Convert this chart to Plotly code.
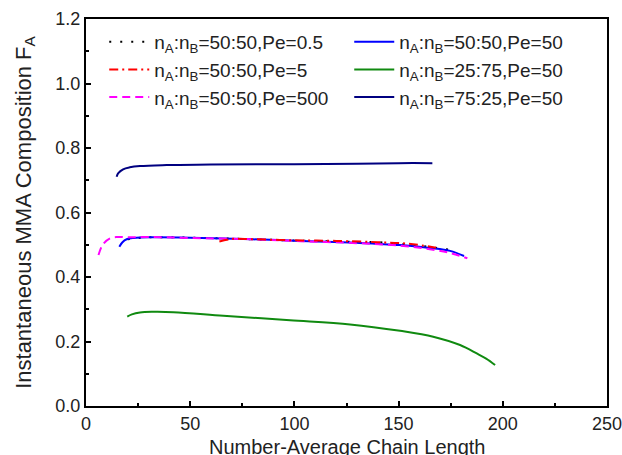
import plotly.graph_objects as go

# Data (x: number-average chain length, y: F_A)
x_pe05 = [20, 30, 50, 80, 100, 130, 143, 160, 175]
y_pe05 = [0.517, 0.523, 0.522, 0.517, 0.513, 0.509, 0.507, 0.497, 0.484]

x_pe5 = [64, 70, 80, 100, 120, 140, 155, 168]
y_pe5 = [0.510, 0.518, 0.517, 0.514, 0.512, 0.508, 0.503, 0.491]

x_pe500 = [6, 8, 11.5, 15, 20, 30, 50, 80, 103, 130, 151, 165, 175, 183]
y_pe500 = [0.468, 0.50, 0.520, 0.524, 0.523, 0.524, 0.521, 0.517, 0.511, 0.505, 0.497, 0.486, 0.474, 0.458]

x_pe50 = [16, 17.5, 19.5, 23, 30.7, 50, 80, 102.7, 130, 150.7, 165, 174.7, 181.4]
y_pe50 = [0.494, 0.508, 0.517, 0.521, 0.523, 0.522, 0.517, 0.512, 0.506, 0.499, 0.490, 0.481, 0.465]

x_2575 = [19.8, 22, 25.9, 32, 41.9, 65.9, 97.9, 126.7, 150.7, 166.6, 179.5, 187.5, 192, 196.3]
y_2575 = [0.277, 0.284, 0.290, 0.292, 0.291, 0.280, 0.266, 0.253, 0.233, 0.215, 0.189, 0.163, 0.147, 0.127]

x_7525 = [14.7, 15.5, 17.8, 21, 25.9, 38.7, 60, 100, 130, 150, 166.2]
y_7525 = [0.711, 0.722, 0.734, 0.740, 0.744, 0.747, 0.749, 0.750, 0.751, 0.753, 0.753]

names = [
    "n<sub>A</sub>:n<sub>B</sub>=50:50,Pe=0.5",
    "n<sub>A</sub>:n<sub>B</sub>=50:50,Pe=5",
    "n<sub>A</sub>:n<sub>B</sub>=50:50,Pe=500",
    "n<sub>A</sub>:n<sub>B</sub>=50:50,Pe=50",
    "n<sub>A</sub>:n<sub>B</sub>=25:75,Pe=50",
    "n<sub>A</sub>:n<sub>B</sub>=75:25,Pe=50",
]

x_title = "Number-Average Chain Length"
y_title = "Instantaneous MMA Composition F<sub>A</sub>"

x_ticks = [0, 50, 100, 150, 200, 250]
y_ticks = [0.0, 0.2, 0.4, 0.6, 0.8, 1.0, 1.2]

fig = go.Figure()

def add(x, y, name, color, dash, rank):
    fig.add_trace(go.Scatter(
        x=x, y=y, mode="lines", name=name, legendrank=rank,
        line=dict(color=color, width=2, dash=dash, shape="spline"),
    ))

# draw order: black under, then blue, magenta, red, green, navy
add(x_pe05, y_pe05, names[0], "black", "2px,9px", 1)
add(x_pe50, y_pe50, names[3], "#0000ff", "solid", 2)
add(x_pe500, y_pe500, names[2], "#ff00ff", "8px,5px", 5)
add(x_pe5, y_pe5, names[1], "#ff0000", "9px,4px,2px,4px", 3)
add(x_2575, y_2575, names[4], "#108a10", "solid", 4)
add(x_7525, y_7525, names[5], "#000080", "solid", 6)

font_family = "Liberation Sans, Arial, sans-serif"

fig.update_layout(
    width=622, height=455,
    margin=dict(l=86, r=15, t=19, b=49),
    paper_bgcolor="white", plot_bgcolor="white",
    font=dict(family=font_family, size=16, color="#222"),
    showlegend=True,
    legend=dict(
        orientation="h", entrywidth=190, entrywidthmode="pixels",
        x=0.035, y=0.99, xanchor="left", yanchor="top",
        font=dict(size=19, color="#222"), bgcolor="rgba(0,0,0,0)",
        tracegroupgap=0, itemwidth=40,
    ),
    xaxis=dict(
        range=[0, 250], tickvals=x_ticks, ticktext=[str(v) for v in x_ticks],
        showline=True, linecolor="black", linewidth=2, mirror=True,
        ticks="inside", ticklen=5, tickwidth=1.5, tickcolor="black",
        minor=dict(dtick=25, ticks="inside", ticklen=3, tickwidth=1.5, tickcolor="black"),
        showgrid=False, zeroline=False, automargin=False, ticklabeloverflow="allow",
        tickfont=dict(size=18),
    ),
    yaxis=dict(
        range=[0, 1.2], tickvals=y_ticks, ticktext=[f"{v:.1f}" for v in y_ticks],
        showline=True, linecolor="black", linewidth=2, mirror=True,
        ticks="inside", ticklen=5, tickwidth=1.5, tickcolor="black",
        minor=dict(dtick=0.1, ticks="inside", ticklen=3, tickwidth=1.5, tickcolor="black"),
        showgrid=False, zeroline=False, automargin=False, ticklabeloverflow="allow",
        title=dict(text=y_title, font=dict(size=22), standoff=18),
        tickfont=dict(size=18),
    ),
    annotations=[dict(
        text=x_title, xref="paper", yref="paper", x=0.5, y=-0.106,
        xanchor="center", yanchor="middle", showarrow=False,
        font=dict(size=20, color="#222"),
    )],
)

fig.write_html("out.html")
